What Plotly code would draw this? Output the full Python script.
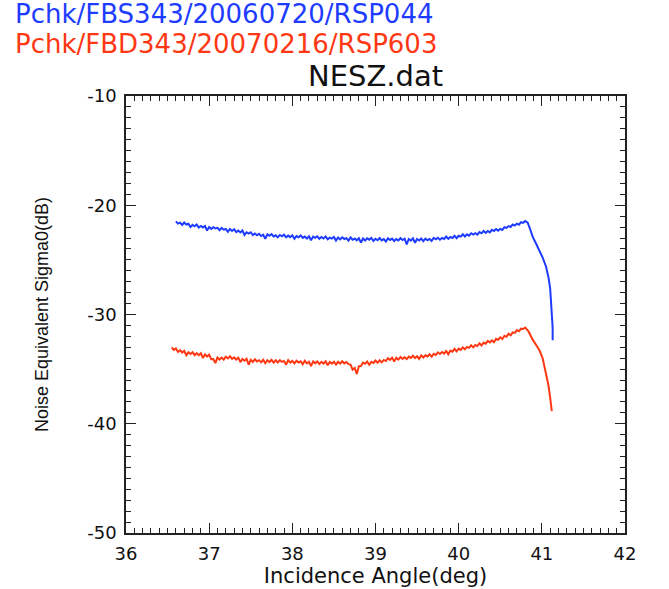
import plotly.graph_objects as go

# Noise-equivalent sigma0 profiles versus incidence angle (dB)
blue_angle = [
    36.600, 36.625, 36.650, 36.675, 36.700, 36.725, 36.750, 36.775, 36.800, 36.825,
    36.850, 36.875, 36.900, 36.925, 36.950, 36.975, 37.000, 37.025, 37.050, 37.075,
    37.100, 37.125, 37.150, 37.175, 37.200, 37.225, 37.250, 37.275, 37.300, 37.325,
    37.350, 37.375, 37.400, 37.425, 37.450, 37.475, 37.500, 37.525, 37.550, 37.575,
    37.600, 37.625, 37.650, 37.675, 37.700, 37.725, 37.750, 37.775, 37.800, 37.825,
    37.850, 37.875, 37.900, 37.925, 37.950, 37.975, 38.000, 38.025, 38.050, 38.075,
    38.100, 38.125, 38.150, 38.175, 38.200, 38.225, 38.250, 38.275, 38.300, 38.325,
    38.350, 38.375, 38.400, 38.425, 38.450, 38.475, 38.500, 38.525, 38.550, 38.575,
    38.600, 38.625, 38.650, 38.675, 38.700, 38.725, 38.750, 38.775, 38.800, 38.825,
    38.850, 38.875, 38.900, 38.925, 38.950, 38.975, 39.000, 39.025, 39.050, 39.075,
    39.100, 39.125, 39.150, 39.175, 39.200, 39.225, 39.250, 39.275, 39.300, 39.325,
    39.350, 39.375, 39.400, 39.425, 39.450, 39.475, 39.500, 39.525, 39.550, 39.575,
    39.600, 39.625, 39.650, 39.675, 39.700, 39.725, 39.750, 39.775, 39.800, 39.825,
    39.850, 39.875, 39.900, 39.925, 39.950, 39.975, 40.000, 40.025, 40.050, 40.075,
    40.100, 40.125, 40.150, 40.175, 40.200, 40.225, 40.250, 40.275, 40.300, 40.325,
    40.350, 40.375, 40.400, 40.425, 40.450, 40.475, 40.500, 40.525, 40.550, 40.575,
    40.600, 40.625, 40.650, 40.675, 40.700, 40.725, 40.750, 40.775, 40.800,
    40.830, 40.860, 40.890, 40.930, 40.970, 41.010, 41.050, 41.080, 41.100, 41.110,
    41.120, 41.130, 41.130,
]
blue_nesz = [
    -21.47, -21.68, -21.59, -21.80, -21.58, -21.76, -21.69, -22.00, -21.80, -21.93,
    -21.76, -22.04, -21.90, -22.03, -21.90, -22.32, -22.00, -22.16, -22.01, -22.13,
    -22.07, -22.29, -22.07, -22.24, -22.17, -22.43, -22.17, -22.35, -22.19, -22.45,
    -22.32, -22.49, -22.31, -22.72, -22.47, -22.59, -22.47, -22.73, -22.59, -22.75,
    -22.61, -22.82, -22.70, -23.08, -22.66, -22.80, -22.64, -22.86, -22.75, -22.94,
    -22.72, -22.84, -22.70, -22.94, -22.78, -22.92, -22.75, -23.06, -22.82, -22.93,
    -22.76, -22.99, -22.87, -23.05, -22.83, -23.20, -22.87, -22.98, -22.84, -23.07,
    -22.91, -23.04, -22.86, -23.12, -22.97, -23.05, -22.91, -23.23, -22.95, -23.12,
    -22.93, -23.09, -23.01, -23.24, -22.95, -23.16, -23.05, -23.21, -23.02, -23.42,
    -23.04, -23.23, -23.02, -23.15, -23.00, -23.27, -23.07, -23.20, -23.00, -23.22,
    -23.09, -23.33, -23.03, -23.19, -23.05, -23.27, -23.10, -23.22, -23.01, -23.18,
    -23.06, -23.58, -23.09, -23.24, -23.03, -23.44, -23.09, -23.23, -23.05, -23.28,
    -23.06, -23.20, -23.08, -23.26, -22.98, -23.12, -22.97, -23.15, -22.99, -23.09,
    -22.87, -23.07, -22.90, -23.00, -22.80, -23.01, -22.79, -22.87, -22.66, -22.86,
    -22.66, -22.78, -22.56, -22.68, -22.56, -22.69, -22.45, -22.57, -22.36, -22.53,
    -22.35, -22.48, -22.25, -22.36, -22.17, -22.32, -22.16, -22.26, -22.01, -22.08,
    -21.91, -21.99, -21.76, -21.86, -21.68, -21.78, -21.55, -21.61, -21.45,
    -21.60, -22.20, -22.90, -23.50, -24.10, -24.80, -25.60, -26.60, -27.60, -28.70,
    -30.10, -31.20, -32.35,
]

red_angle = [
    36.550, 36.575, 36.600, 36.625, 36.650, 36.675, 36.700, 36.725, 36.750, 36.775,
    36.800, 36.825, 36.850, 36.875, 36.900, 36.925, 36.950, 36.975, 37.000, 37.025,
    37.050, 37.075, 37.100, 37.125, 37.150, 37.175, 37.200, 37.225, 37.250, 37.275,
    37.300, 37.325, 37.350, 37.375, 37.400, 37.425, 37.450, 37.475, 37.500, 37.525,
    37.550, 37.575, 37.600, 37.625, 37.650, 37.675, 37.700, 37.725, 37.750, 37.775,
    37.800, 37.825, 37.850, 37.875, 37.900, 37.925, 37.950, 37.975, 38.000, 38.025,
    38.050, 38.075, 38.100, 38.125, 38.150, 38.175, 38.200, 38.225, 38.250, 38.275,
    38.300, 38.325, 38.350, 38.375, 38.400, 38.425, 38.450, 38.475, 38.500, 38.525,
    38.550, 38.575, 38.600, 38.625, 38.650, 38.675, 38.700, 38.725, 38.750, 38.775,
    38.800, 38.825, 38.850, 38.875, 38.900, 38.925, 38.950, 38.975, 39.000, 39.025,
    39.050, 39.075, 39.100, 39.125, 39.150, 39.175, 39.200, 39.225, 39.250, 39.275,
    39.300, 39.325, 39.350, 39.375, 39.400, 39.425, 39.450, 39.475, 39.500, 39.525,
    39.550, 39.575, 39.600, 39.625, 39.650, 39.675, 39.700, 39.725, 39.750, 39.775,
    39.800, 39.825, 39.850, 39.875, 39.900, 39.925, 39.950, 39.975, 40.000, 40.025,
    40.050, 40.075, 40.100, 40.125, 40.150, 40.175, 40.200, 40.225, 40.250, 40.275,
    40.300, 40.325, 40.350, 40.375, 40.400, 40.425, 40.450, 40.475, 40.500, 40.525,
    40.550, 40.575, 40.600, 40.625, 40.650, 40.675, 40.700, 40.725, 40.750, 40.775,
    40.800, 40.840, 40.890, 40.930, 40.970, 41.010, 41.030, 41.060, 41.080, 41.100,
    41.110, 41.120,
]
red_nesz = [
    -33.00, -33.24, -33.10, -33.43, -33.26, -33.48, -33.33, -33.73, -33.46, -33.61,
    -33.45, -33.72, -33.54, -33.72, -33.54, -33.98, -33.65, -33.85, -33.67, -34.10,
    -34.08, -34.45, -33.94, -34.12, -33.94, -34.13, -33.87, -34.02, -33.82, -34.07,
    -33.93, -34.13, -33.95, -34.36, -34.07, -34.23, -34.06, -34.60, -34.14, -34.34,
    -34.10, -34.30, -34.18, -34.38, -34.15, -34.46, -34.19, -34.35, -34.15, -34.40,
    -34.19, -34.39, -34.18, -34.34, -34.25, -34.59, -34.18, -34.40, -34.25, -34.48,
    -34.23, -34.40, -34.29, -34.55, -34.24, -34.48, -34.33, -34.73, -34.29, -34.47,
    -34.29, -34.53, -34.34, -34.49, -34.28, -34.65, -34.35, -34.50, -34.32, -34.58,
    -34.33, -34.50, -34.28, -34.48, -34.35, -34.54, -34.59, -35.05, -34.90, -35.45,
    -34.74, -34.72, -34.41, -34.51, -34.31, -34.60, -34.33, -34.44, -34.21, -34.42,
    -34.19, -34.38, -34.16, -34.26, -34.00, -34.15, -33.95, -34.31, -33.96, -34.12,
    -33.88, -34.06, -33.91, -34.08, -33.85, -33.97, -33.78, -33.99, -33.82, -34.07,
    -33.74, -33.94, -33.74, -33.84, -33.63, -33.85, -33.60, -33.71, -33.46, -33.61,
    -33.43, -33.57, -33.33, -33.64, -33.30, -33.40, -33.15, -33.37, -33.12, -33.24,
    -33.01, -33.19, -32.97, -33.05, -32.82, -33.01, -32.79, -32.89, -32.64, -32.84,
    -32.57, -32.68, -32.41, -32.55, -32.37, -32.54, -32.22, -32.31, -32.09, -32.24,
    -31.95, -32.04, -31.76, -31.90, -31.63, -31.68, -31.43, -31.54, -31.30, -31.33,
    -31.19, -31.55, -32.30, -32.75, -33.25, -34.00, -34.70, -35.60, -36.50, -37.60,
    -38.30, -38.85,
]

x_ticks = [36, 37, 38, 39, 40, 41, 42]
x_labels = ["36", "37", "38", "39", "40", "41", "42"]
y_ticks = [-50, -40, -30, -20, -10]
y_labels = ["-50", "-40", "-30", "-20", "-10"]

blue_name = "Pchk/FBS343/20060720/RSP044"
red_name = "Pchk/FBD343/20070216/RSP603"
BLUE = "#1e3cff"
RED = "#ff3814"
INK = "#111111"
FONT = "DejaVu Sans"

fig = go.Figure()
fig.add_trace(go.Scatter(x=blue_angle, y=blue_nesz, mode="lines", name=blue_name,
                         line=dict(color=BLUE, width=2)))
fig.add_trace(go.Scatter(x=red_angle, y=red_nesz, mode="lines", name=red_name,
                         line=dict(color=RED, width=2)))

axis_common = dict(
    showline=True, linecolor="#222222", linewidth=1.5, mirror="allticks",
    ticks="inside", ticklen=10, tickwidth=1.3, tickcolor="#222222",
    showgrid=False, zeroline=False, automargin=False,
    tickfont=dict(family=FONT, size=18, color=INK),
)

fig.update_xaxes(
    range=[36, 42], tickvals=x_ticks, ticktext=x_labels, ticklabelstandoff=4,
    minor=dict(ticks="inside", ticklen=5, dtick=0.1, tickcolor="#222222", tickwidth=1.1),
    title=dict(text="Incidence Angle(deg)", font=dict(family=FONT, size=21, color=INK),
               standoff=4),
    **axis_common,
)
fig.update_yaxes(
    range=[-50, -10], tickvals=y_ticks, ticktext=y_labels, ticklabelstandoff=4,
    minor=dict(ticks="inside", ticklen=5, dtick=1, tickcolor="#222222", tickwidth=1.1),
    title=dict(text="Noise Equivalent Sigma0(dB)",
               font=dict(family="Liberation Sans Narrow, Liberation Sans", size=18, color=INK),
               standoff=34),
    **axis_common,
)

fig.add_annotation(text=blue_name, xref="paper", yref="paper", x=-0.226, y=1.187,
                   xanchor="left", yanchor="middle", showarrow=False,
                   font=dict(family=FONT, size=26, color=BLUE))
fig.add_annotation(text=red_name, xref="paper", yref="paper", x=-0.226, y=1.119,
                   xanchor="left", yanchor="middle", showarrow=False,
                   font=dict(family=FONT, size=26, color=RED))
fig.add_annotation(text="NESZ.dat", xref="paper", yref="paper", x=0.5, y=1.045,
                   xanchor="center", yanchor="middle", showarrow=False,
                   font=dict(family=FONT, size=29, color=INK))

fig.update_layout(
    width=669, height=589,
    margin=dict(l=126, r=44, t=96, b=56),
    paper_bgcolor="white", plot_bgcolor="white",
    showlegend=False,
)

fig.write_html("out.html")
